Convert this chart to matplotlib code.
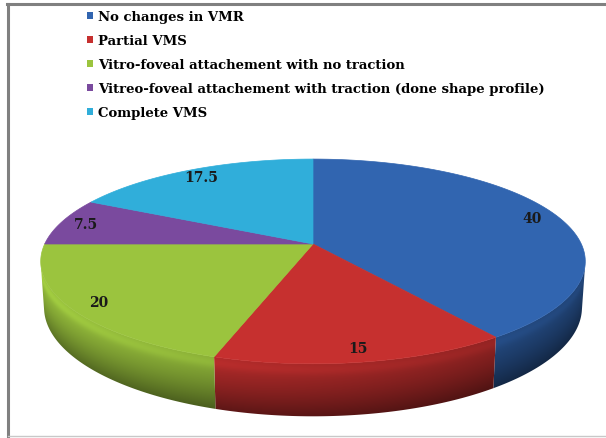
import numpy as np
import matplotlib
matplotlib.use("Agg")
import matplotlib.pyplot as plt
import matplotlib.colors as mcolors
from matplotlib.patches import Polygon, Patch
from matplotlib.lines import Line2D

categories = [
    "No changes in VMR",
    "Partial VMS",
    "Vitro-foveal attachement with no traction",
    "Vitreo-foveal attachement with traction (done shape profile)",
    "Complete VMS",
]
values = [40, 15, 20, 7.5, 17.5]
value_labels = ["40", "15", "20", "7.5", "17.5"]
top_colors = ["#3165B0", "#C6302F", "#9BC43E", "#7A4A9E", "#30AEDA"]

W, H = 606, 439

# ---- camera for the tilted pie (pixel units) ----
CX, CY = 313, 245          # screen position of the pie centre
ELEV = np.radians(21.4)
DIST = 5.47                # camera distance in pie radii
FOCAL = 1490
XSCALE = 0.985
THICK = 0.18               # pie thickness in pie radii
ce, se = np.cos(ELEV), np.sin(ELEV)


def project(X, Y, Z):
    d = DIST + Y * ce - Z * se
    return CX + XSCALE * FOCAL * X / d, CY - FOCAL * (Y * se + Z * ce) / d


fig = plt.figure(figsize=(W / 100, H / 100), dpi=100)
ax = fig.add_axes([0, 0, 1, 1])
ax.set_xlim(0, W)
ax.set_ylim(H, 0)
ax.axis("off")

fracs = np.array(values) / sum(values)
bounds = 90 - 360 * np.concatenate([[0], np.cumsum(fracs)])

# side wall is visible where its outward normal faces the camera
lim = np.degrees(np.arcsin(1 / (DIST * ce)))
vis_lo, vis_hi = -180 + lim, -lim

# shading map for the side wall: lit from the left, darker toward the bottom
tt = np.radians(np.linspace(vis_lo, vis_hi, 600))
x_top, y_top = project(np.cos(tt), np.sin(tt), 0)
_, y_bot = project(np.cos(tt), np.sin(tt), -THICK)
cols = np.arange(W) + 0.5
rows = np.arange(H) + 0.5
yt = np.interp(cols, x_top, y_top)
yb = np.interp(cols, x_top, y_bot)
tc = np.interp(cols, x_top, tt)
down = np.clip((rows[:, None] - yt[None, :]) / (yb - yt)[None, :], 0, 1)
light = 0.84 - 0.18 * np.cos(tc)
rim = 0.08 * np.exp(-((down - 0.12) / 0.1) ** 2)
fmap = light[None, :] * (0.98 + rim - 0.45 * down ** 1.4)

for i, col in enumerate(top_colors):
    a, b = max(bounds[i + 1], vis_lo), min(bounds[i], vis_hi)
    if a >= b:
        continue
    t = np.radians(np.linspace(a, b, 200))
    xs, ys = project(np.cos(t), np.sin(t), 0)
    xb, yb_ = project(np.cos(t), np.sin(t), -THICK)
    outline = np.column_stack([np.r_[xs, xb[::-1]], np.r_[ys, yb_[::-1]]])
    wall = Polygon(outline, closed=True, facecolor="none", edgecolor="none")
    ax.add_patch(wall)
    rgb = np.clip(np.array(mcolors.to_rgb(col))[None, None, :] * fmap[:, :, None], 0, 1)
    im = ax.imshow(rgb, extent=(0, W, H, 0), origin="upper",
                   interpolation="bilinear", aspect="auto", zorder=1)
    im.set_clip_path(wall)

# top faces
cx0, cy0 = project(0.0, 0.0, 0.0)
for i, col in enumerate(top_colors):
    t = np.radians(np.linspace(bounds[i], bounds[i + 1], 120))
    xs, ys = project(np.cos(t), np.sin(t), 0)
    poly = np.column_stack([np.r_[cx0, xs], np.r_[cy0, ys]])
    ax.add_patch(Polygon(poly, closed=True, facecolor=col,
                         edgecolor=col, linewidth=0.5, zorder=2))

# value labels on the top face
for i, lab in enumerate(value_labels):
    mid = np.radians((bounds[i] + bounds[i + 1]) / 2)
    lx, ly = project(0.9 * np.cos(mid), 0.9 * np.sin(mid), 0)
    ax.text(lx, ly, lab, ha="center", va="center", fontsize=10,
            fontweight="bold", family="DejaVu Serif", color="#1a1a1a", zorder=3)

# legend
handles = [Patch(facecolor=c, edgecolor="none") for c in top_colors]
ax.legend(handles, categories, loc="upper left",
          bbox_to_anchor=(87 / W, 1 - 11 / H), frameon=False,
          prop={"family": "DejaVu Serif", "weight": "bold", "size": 9.55},
          handlelength=0.42, handleheight=0.42, handletextpad=0.42,
          labelspacing=0.83, borderaxespad=0, borderpad=0)

# frame lines
ax.add_line(Line2D([7, W], [5, 5], color="#808080", linewidth=2.2, zorder=4))
ax.add_line(Line2D([8, 8], [5, 437], color="#808080", linewidth=2.2, zorder=4))
ax.add_line(Line2D([8, W], [437.5, 437.5], color="#c8c8c8", linewidth=1, zorder=4))

fig.savefig("out.png", dpi=100)
